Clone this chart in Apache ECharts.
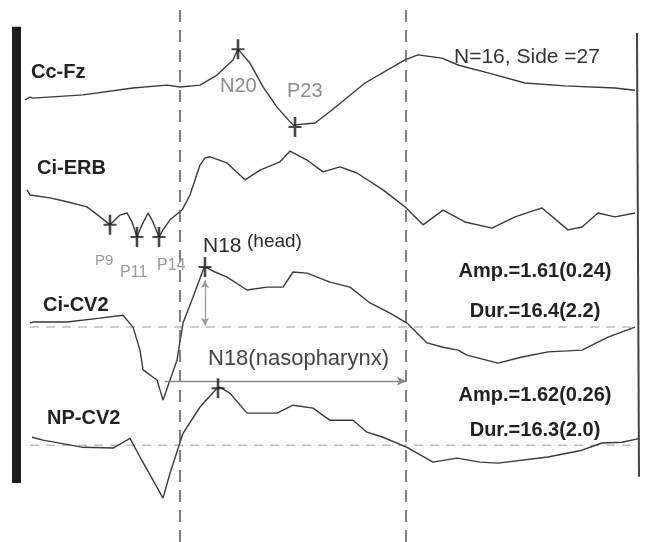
<!DOCTYPE html>
<html>
<head>
<meta charset="utf-8">
<script src="https://cdn.jsdelivr.net/npm/echarts@6/dist/echarts.min.js"></script>
<style>
  html, body { margin: 0; padding: 0; background: #fff; }
  #chart { width: 645px; height: 542px; }
</style>
</head>
<body>
<div id="chart"></div>
<script>
// traces: [time (ms), amplitude (uV) relative to each trace's own baseline]
var ccFz = [[0,-0.08],[0.5,0],[0.8,-0.03],[5.8,0.06],[10.8,0.25],[14.2,0.33],[15.5,0.28],[17.5,0.33],
  [19.2,0.61],[20.8,1.03],[21.3,1.33],[22.5,0.94],[23.8,0.28],[25.2,-0.28],[26.8,-0.78],[27,-0.83],
  [29,-0.72],[30.7,-0.36],[34,0.39],[38,1.03],[39.3,1.17],[41.7,1.08],[43.3,0.89],[46.3,0.67],
  [50,0.39],[54,0.31],[59,0.25],[61,0.19]];

var ciErb = [[0.2,0.14],[0.5,0],[2.5,-0.08],[4.2,-0.19],[6.2,-0.33],[7.5,-0.61],[8.5,-0.83],[9.5,-0.56],
  [10.2,-0.5],[10.7,-0.75],[11.2,-1.17],[11.7,-0.83],[12.3,-0.5],[12.8,-0.75],[13.4,-1.17],[13.8,-0.97],
  [14.5,-0.69],[15.7,-0.42],[16.5,0],[17.5,0.83],[18,1.03],[18.5,1.06],[20.2,0.89],[22,0.42],
  [23.5,0.69],[25.5,0.92],[26.5,1.22],[28.2,0.97],[29.8,0.64],[31.5,0.78],[33.2,0.61],[35.8,0.14],
  [38,-0.33],[39.8,-0.83],[41.8,-0.42],[44,-0.75],[46.7,-0.92],[49,-0.61],[51.7,-0.36],[54.3,-0.97],
  [55.7,-0.89],[57.3,-0.5],[59,-0.61],[61,-0.5]];

var ciCv2 = [[0.5,0.11],[0.8,0.14],[4.2,0.14],[7.5,0.25],[9.8,0.33],[10.8,0],[11.5,-0.64],[11.8,-1.19],
  [13.2,-1.47],[13.8,-2.03],[14.5,-1.47],[15.2,-0.92],[15.8,0.11],[16.8,0.83],[17.8,1.58],[18,1.67],
  [19,1.53],[20.2,1.39],[22.2,1.03],[24.2,1.11],[25.8,1.11],[26.8,1.53],[28.2,1.5],[30.5,1.25],
  [32.5,1.11],[34.5,0.67],[36.5,0.39],[38.2,0.11],[40.2,-0.44],[41.8,-0.56],[43.3,-0.64],[44.2,-0.78],
  [47.3,-1],[49.7,-0.83],[52.3,-0.69],[55.7,-0.64],[58.3,-0.28],[61,0]];

var npCv2 = [[0.7,0.22],[1.8,0.14],[5.8,-0.06],[8.8,-0.08],[10.5,0.19],[11.5,-0.33],[12.8,-0.97],
  [13.8,-1.47],[14.5,-0.78],[15.8,0.33],[17.5,1.06],[19.2,1.58],[19.5,1.61],[20.5,1.44],[22.2,0.89],
  [25.2,0.89],[26.8,1.11],[28.8,1.03],[30.5,0.69],[32.8,0.69],[34.2,0.36],[35.8,0.22],[38.2,-0.06],
  [40.8,-0.47],[43.2,-0.36],[45.5,-0.47],[47.3,-0.5],[52.3,-0.33],[55.7,-0.14],[57.7,0.06],
  [59.7,0.08],[61.5,0.19]];

// marked peaks (same units)
var ccFzPeaks = [[21.3,1.33],[27,-0.83]];
var ciErbPeaks = [[8.5,-0.83],[11.2,-1.17],[13.4,-1.17]];
var ciCv2Peaks = [[18,1.67]];
var npCv2Peaks = [[19.3,1.58]];

// latency markers (ms)
var markTimes = [15.5, 38.1];

// vertical stacking of the traces (uV)
var offsets = [12.36, 9.64, 5.97, 2.69];

function shift(arr, off) {
  return arr.map(function (p) { return [p[0], p[1] + off]; });
}

var traceColor = "#3a3a3a";
var plus = "path://M4,0H6V9H10V11H6V20H4V11H0V9H4Z";

var chart = echarts.init(document.getElementById("chart"));

var series = [];
[ccFz, ciErb, ciCv2, npCv2].forEach(function (tr, i) {
  series.push({
    type: "line",
    data: shift(tr, offsets[i]),
    symbol: "none",
    silent: true,
    lineStyle: { color: traceColor, width: 1.4 },
    z: 3
  });
});

// baselines for the two CV2 traces
[2, 3].forEach(function (i) {
  series.push({
    type: "line",
    data: [[0.5, offsets[i]], [61.2, offsets[i]]],
    symbol: "none",
    silent: true,
    lineStyle: { color: "#bdbdbd", width: 1.5, type: [9, 7] },
    z: 1
  });
});

// stimulus bar on the left, frame line on the right
series.push({
  type: "line",
  data: [[-0.85, 14.31], [-0.85, 1.64]],
  symbol: "none",
  silent: true,
  lineStyle: { color: "#1e1e1e", width: 9 },
  z: 4
});
series.push({
  type: "line",
  data: [[61.2, 14.14], [61.4, 1.81]],
  symbol: "none",
  silent: true,
  lineStyle: { color: "#444", width: 2 },
  z: 4
});

// dashed latency lines + arrows
series.push({
  type: "line",
  data: [],
  markLine: {
    silent: true,
    symbol: "none",
    label: { show: false },
    lineStyle: { color: "#555", width: 1.5, type: [12, 8] },
    data: markTimes.map(function (t) { return { xAxis: t }; })
  }
});
series.push({
  type: "line",
  data: [],
  markLine: {
    silent: true,
    symbol: ["arrow", "arrow"],
    symbolSize: [6, 8],
    label: { show: false },
    lineStyle: { color: "#999", width: 1.3, type: "solid" },
    data: [[{ coord: [18, offsets[2] + 0.04] }, { coord: [18, offsets[2] + 1.3] }]]
  }
});
series.push({
  type: "line",
  data: [],
  markLine: {
    silent: true,
    symbol: ["none", "arrow"],
    symbolSize: [7, 9],
    label: { show: false },
    lineStyle: { color: "#888", width: 1.3, type: "solid" },
    data: [[{ coord: [14, offsets[3] + 1.78] }, { coord: [38.1, offsets[3] + 1.78] }]]
  }
});

// peak crosses
series.push({
  type: "scatter",
  data: []
    .concat(shift(ccFzPeaks, offsets[0]))
    .concat(shift(ciErbPeaks, offsets[1]))
    .concat(shift(ciCv2Peaks, offsets[2]))
    .concat(shift(npCv2Peaks, offsets[3])),
  symbol: plus,
  symbolSize: [13, 20],
  itemStyle: { color: "#1a1a1a" },
  silent: true,
  z: 5
});

function txt(text, x, y, size, color, weight, align) {
  return {
    type: "text",
    x: x,
    y: y,
    silent: true,
    style: {
      text: text,
      fill: color,
      font: (weight || "normal") + " " + size + "px 'Liberation Sans', Arial, sans-serif",
      textAlign: align || "left",
      align: align || "left",
      textVerticalAlign: "middle",
      verticalAlign: "middle"
    },
    z: 10
  };
}

chart.setOption({
  backgroundColor: "#fff",
  animation: false,
  grid: { left: 0, right: 0, top: 2, bottom: 0 },
  xAxis: { type: "value", min: -2.5, max: 62, show: false },
  yAxis: { type: "value", min: 0, max: 15, show: false },
  series: series,
  graphic: [
    txt("Cc-Fz", 31, 72, 20, "#222", "bold"),
    txt("N=16, Side =27", 454, 57, 21, "#333"),
    txt("N20", 220, 86, 20, "#8c8c8c"),
    txt("P23", 287, 91, 20, "#8c8c8c"),
    txt("Ci-ERB", 37, 168, 20, "#222", "bold"),
    txt("P9", 95, 261, 15, "#9a9a9a"),
    txt("P11", 120, 273, 16, "#9a9a9a"),
    txt("P14", 157, 266, 16, "#9a9a9a"),
    txt("N18", 203, 246, 21, "#2a2a2a"),
    txt("(head)", 247, 242, 19, "#2a2a2a"),
    txt("Ci-CV2", 43, 305, 20, "#222", "bold"),
    txt("Amp.=1.61(0.24)", 535, 271, 20, "#222", "bold", "center"),
    txt("Dur.=16.4(2.2)", 535, 311, 20, "#222", "bold", "center"),
    txt("N18(nasopharynx)", 208, 359, 22, "#444"),
    txt("NP-CV2", 47, 418, 20, "#222", "bold"),
    txt("Amp.=1.62(0.26)", 535, 395, 20, "#222", "bold", "center"),
    txt("Dur.=16.3(2.0)", 535, 430, 20, "#222", "bold", "center")
  ]
});
</script>
</body>
</html>
